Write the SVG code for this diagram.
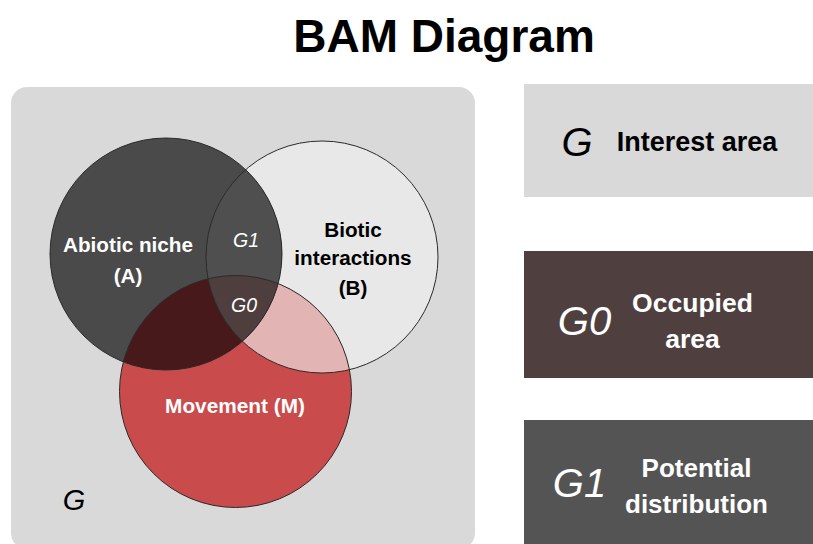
<svg xmlns="http://www.w3.org/2000/svg" width="813" height="544" viewBox="0 0 813 544">
<style>
.t{font-family:"Liberation Sans",Arial,sans-serif;font-weight:bold;text-anchor:middle}
.i{font-family:"Liberation Sans",Arial,sans-serif;font-style:italic;text-anchor:middle}
.w{fill:#ffffff}
.k{fill:#000000}
.ring{fill:none;stroke:#2b2b2b;stroke-width:1}
</style>
<defs>
<clipPath id="cA"><circle cx="166" cy="254" r="116"/></clipPath>
<clipPath id="cB"><circle cx="322" cy="257" r="116"/></clipPath>
<clipPath id="cM"><circle cx="235.5" cy="391.5" r="116"/></clipPath>
</defs>
<rect width="813" height="544" fill="#ffffff"/>
<text class="t k" x="444" y="52" font-size="46">BAM Diagram</text>
<g id="area-G">
<rect x="11" y="87" width="464" height="462" rx="16" fill="#d9d9d9"/>
<text class="i k" x="74" y="510" font-size="29">G</text>
</g>
<g id="circle-B">
<circle cx="322" cy="257" r="116" fill="#e8e8e8"/>
</g>
<g id="circle-M">
<circle cx="235.5" cy="391.5" r="116" fill="#c94b4b"/>
</g>
<g id="circle-A">
<circle cx="166" cy="254" r="116" fill="#4a4a4a"/>
</g>
<g id="overlaps">
<g clip-path="url(#cB)"><circle cx="235.5" cy="391.5" r="116" fill="#e3b4b4"/></g>
<g clip-path="url(#cA)"><circle cx="235.5" cy="391.5" r="116" fill="#48191a"/></g>
<g clip-path="url(#cA)"><circle cx="322" cy="257" r="116" fill="#4f4f4f"/></g>
<g clip-path="url(#cA)"><g clip-path="url(#cB)"><circle cx="235.5" cy="391.5" r="116" fill="#4e3e3e"/></g></g>
<circle class="ring" cx="322" cy="257" r="116"/>
<circle class="ring" cx="235.5" cy="391.5" r="116"/>
<circle class="ring" cx="166" cy="254" r="116"/>
</g>
<g id="labels">
<text class="t w" x="128" y="252" font-size="20.7">Abiotic niche</text>
<text class="t w" x="128" y="283" font-size="20.7">(A)</text>
<text class="i w" x="246" y="247" font-size="19.5">G1</text>
<text class="i w" x="244" y="312" font-size="19.5">G0</text>
<text class="t k" x="353" y="237" font-size="20.7">Biotic</text>
<text class="t k" x="353" y="265" font-size="20.7">interactions</text>
<text class="t k" x="353" y="295" font-size="20.7">(B)</text>
<text class="t w" x="235" y="413" font-size="20.8">Movement (M)</text>
</g>
<g id="legend-G">
<rect x="524" y="84" width="295" height="113" fill="#d9d9d9"/>
<text class="i k" x="577" y="156" font-size="40">G</text>
<text class="t k" x="697" y="151" font-size="27">Interest area</text>
</g>
<g id="legend-G0">
<rect x="524" y="251" width="295" height="127" fill="#4f3f3f"/>
<text class="i w" x="584.5" y="335" font-size="40">G0</text>
<text class="t w" x="692.5" y="312" font-size="26.5">Occupied</text>
<text class="t w" x="692.5" y="348" font-size="26.5">area</text>
</g>
<g id="legend-G1">
<rect x="524" y="420" width="295" height="130" fill="#545454"/>
<text class="i w" x="579.5" y="497" font-size="40">G1</text>
<text class="t w" x="696.5" y="477" font-size="26">Potential</text>
<text class="t w" x="696.5" y="513" font-size="26">distribution</text>
</g>
</svg>
